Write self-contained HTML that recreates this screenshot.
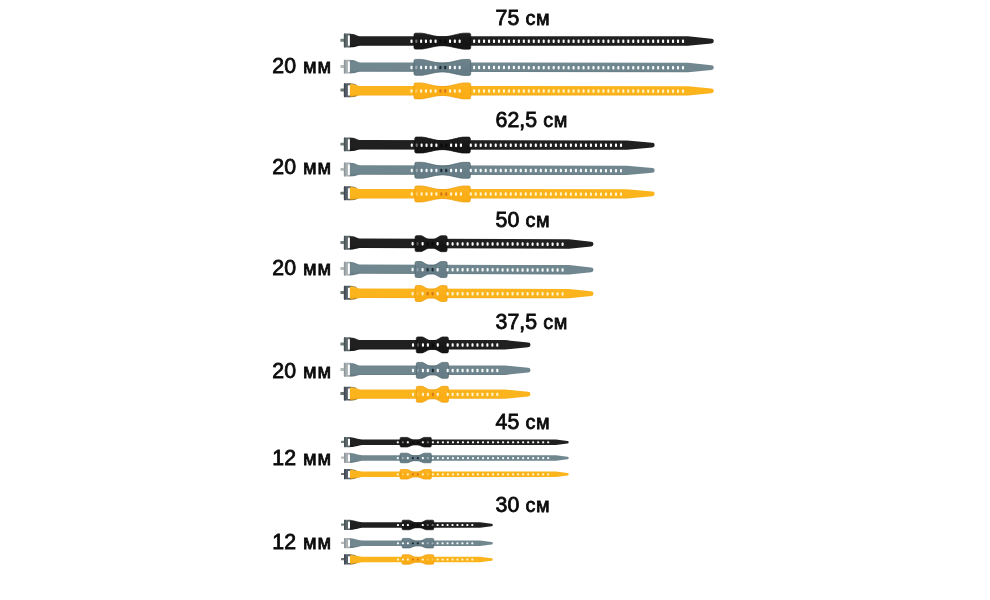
<!DOCTYPE html>
<html lang="ru">
<head>
<meta charset="utf-8">
<title>Ремни 20 мм и 12 мм</title>
<style>
html,body{margin:0;padding:0;background:#fff;}
body{width:990px;height:600px;position:relative;overflow:hidden;}
svg{position:absolute;left:0;top:0;display:block;}
.lab{position:absolute;font-family:"Liberation Sans",sans-serif;font-size:19.8px;line-height:24px;font-weight:400;color:#0b0b0b;white-space:pre;letter-spacing:0.6px;-webkit-text-stroke:0.8px #0b0b0b;}
.lab.w{letter-spacing:0.9px;}
.lab .d{font-size:21.3px;letter-spacing:0px;}
.lab.w .d{letter-spacing:0.3px;}
</style>
</head>
<body>
<svg width="990" height="600" viewBox="0 0 990 600">
<defs>
<linearGradient id="bk" x1="0" y1="0" x2="0" y2="1"><stop offset="0" stop-color="#2a2a2a"/><stop offset="0.22" stop-color="#202020"/><stop offset="0.75" stop-color="#202020"/><stop offset="1" stop-color="#151515"/></linearGradient>
<linearGradient id="kk" x1="0" y1="0" x2="0" y2="1"><stop offset="0" stop-color="#202020"/><stop offset="0.6" stop-color="#151515"/><stop offset="1" stop-color="#151515"/></linearGradient>
<linearGradient id="bg" x1="0" y1="0" x2="0" y2="1"><stop offset="0" stop-color="#6b8088"/><stop offset="0.22" stop-color="#70878f"/><stop offset="0.75" stop-color="#70878f"/><stop offset="1" stop-color="#62767e"/></linearGradient>
<linearGradient id="kg" x1="0" y1="0" x2="0" y2="1"><stop offset="0" stop-color="#6d848d"/><stop offset="0.6" stop-color="#667d87"/><stop offset="1" stop-color="#667d87"/></linearGradient>
<linearGradient id="by" x1="0" y1="0" x2="0" y2="1"><stop offset="0" stop-color="#ffc132"/><stop offset="0.22" stop-color="#fbb41c"/><stop offset="0.75" stop-color="#fbb41c"/><stop offset="1" stop-color="#f2a614"/></linearGradient>
<linearGradient id="ky" x1="0" y1="0" x2="0" y2="1"><stop offset="0" stop-color="#fdb422"/><stop offset="0.6" stop-color="#fbad15"/><stop offset="1" stop-color="#fbad15"/></linearGradient>
</defs>
<g class="strap s20 k" transform="rotate(0.016 344 40.95)">
<rect x="340.4" y="38.85" width="4" height="2.9" rx="0.5" fill="#717d7e"/>
<rect x="343.9" y="33.55" width="7.5" height="13.9" rx="0.9" fill="#5f6b6d"/>
<rect x="343.9" y="33.55" width="1.5" height="13.9" rx="0.7" fill="#465254"/>
<rect x="347.9" y="35.45" width="2.3" height="10.4" rx="0.3" fill="#fdfdfd"/>
<path d="M349.9 33.95 L353 33.95 C355.5 34.25 357.5 36.25 360 36.25 L688 36.25 L711.4 38.55 A2.4 2.4 0 0 1 711.4 43.35 L688 45.65 L360 45.65 C357.5 45.65 355.5 46.85 353 47.15 L349.9 47.15 Z" fill="url(#bk)"/>
<path d="M414 34.65 Q414 33.15 415.5 33.15 L421 33.15 C425.48 33.25 435.25 36.8 441.35 36.8 L443.35 36.8 C449.46 36.8 459.22 33.25 463.7 33.15 L469.2 33.15 Q470.7 33.15 470.7 34.65 L470.7 47.6 Q470.7 49.1 469.2 49.1 L463.7 49.1 C459.22 49 449.46 45.7 443.35 45.7 L441.35 45.7 C435.25 45.7 425.48 49 421 49.1 L415.5 49.1 Q414 49.1 414 47.6 Z" fill="url(#kk)" stroke="#101010" stroke-width="0.7" stroke-linejoin="round"/>
<g fill="#fcfcfc"><rect x="410.45" y="39.5" width="2.1" height="3.5" rx="0.8"/><rect x="420.08" y="39.5" width="2.1" height="3.5" rx="0.8"/><rect x="424.9" y="39.5" width="2.1" height="3.5" rx="0.8"/><rect x="429.71" y="39.5" width="2.1" height="3.5" rx="0.8"/><rect x="434.53" y="39.5" width="2.1" height="3.5" rx="0.8"/><rect x="448.97" y="39.5" width="2.1" height="3.5" rx="0.8"/><rect x="453.79" y="39.5" width="2.1" height="3.5" rx="0.8"/><rect x="458.6" y="39.5" width="2.1" height="3.5" rx="0.8"/><rect x="473.05" y="39.5" width="2.1" height="3.5" rx="0.8"/><rect x="478.02" y="39.5" width="2.1" height="3.5" rx="0.8"/><rect x="483" y="39.5" width="2.1" height="3.5" rx="0.8"/><rect x="487.97" y="39.5" width="2.1" height="3.5" rx="0.8"/><rect x="492.95" y="39.5" width="2.1" height="3.5" rx="0.8"/><rect x="497.92" y="39.5" width="2.1" height="3.5" rx="0.8"/><rect x="502.89" y="39.5" width="2.1" height="3.5" rx="0.8"/><rect x="507.87" y="39.5" width="2.1" height="3.5" rx="0.8"/><rect x="512.84" y="39.5" width="2.1" height="3.5" rx="0.8"/><rect x="517.81" y="39.5" width="2.1" height="3.5" rx="0.8"/><rect x="522.79" y="39.5" width="2.1" height="3.5" rx="0.8"/><rect x="527.76" y="39.5" width="2.1" height="3.5" rx="0.8"/><rect x="532.74" y="39.5" width="2.1" height="3.5" rx="0.8"/><rect x="537.71" y="39.5" width="2.1" height="3.5" rx="0.8"/><rect x="542.68" y="39.5" width="2.1" height="3.5" rx="0.8"/><rect x="547.66" y="39.5" width="2.1" height="3.5" rx="0.8"/><rect x="552.63" y="39.5" width="2.1" height="3.5" rx="0.8"/><rect x="557.6" y="39.5" width="2.1" height="3.5" rx="0.8"/><rect x="562.58" y="39.5" width="2.1" height="3.5" rx="0.8"/><rect x="567.55" y="39.5" width="2.1" height="3.5" rx="0.8"/><rect x="572.53" y="39.5" width="2.1" height="3.5" rx="0.8"/><rect x="577.5" y="39.5" width="2.1" height="3.5" rx="0.8"/><rect x="582.47" y="39.5" width="2.1" height="3.5" rx="0.8"/><rect x="587.45" y="39.5" width="2.1" height="3.5" rx="0.8"/><rect x="592.42" y="39.5" width="2.1" height="3.5" rx="0.8"/><rect x="597.4" y="39.5" width="2.1" height="3.5" rx="0.8"/><rect x="602.37" y="39.5" width="2.1" height="3.5" rx="0.8"/><rect x="607.34" y="39.5" width="2.1" height="3.5" rx="0.8"/><rect x="612.32" y="39.5" width="2.1" height="3.5" rx="0.8"/><rect x="617.29" y="39.5" width="2.1" height="3.5" rx="0.8"/><rect x="622.26" y="39.5" width="2.1" height="3.5" rx="0.8"/><rect x="627.24" y="39.5" width="2.1" height="3.5" rx="0.8"/><rect x="632.21" y="39.5" width="2.1" height="3.5" rx="0.8"/><rect x="637.19" y="39.5" width="2.1" height="3.5" rx="0.8"/><rect x="642.16" y="39.5" width="2.1" height="3.5" rx="0.8"/><rect x="647.13" y="39.5" width="2.1" height="3.5" rx="0.8"/><rect x="652.11" y="39.5" width="2.1" height="3.5" rx="0.8"/><rect x="657.08" y="39.5" width="2.1" height="3.5" rx="0.8"/><rect x="662.05" y="39.5" width="2.1" height="3.5" rx="0.8"/><rect x="667.03" y="39.5" width="2.1" height="3.5" rx="0.8"/><rect x="672" y="39.5" width="2.1" height="3.5" rx="0.8"/><rect x="676.98" y="39.5" width="2.1" height="3.5" rx="0.8"/><rect x="681.95" y="39.5" width="2.1" height="3.5" rx="0.8"/></g>
<g fill="#fcfcfc" fill-opacity="0.4"><rect x="415.27" y="39.5" width="2.1" height="3.5" rx="0.8"/></g>
<g fill="#0a0a0a"><rect x="439.34" y="39.5" width="2.1" height="3.5" rx="0.8"/><rect x="444.16" y="39.5" width="2.1" height="3.5" rx="0.8"/></g>
</g>
<g class="strap s20 g" transform="rotate(0.071 344 67.1)">
<rect x="340.4" y="65" width="4" height="2.9" rx="0.5" fill="#b5bbbd"/>
<rect x="343.9" y="59.7" width="7.5" height="13.9" rx="0.9" fill="#aab1b4"/>
<rect x="343.9" y="59.7" width="1.5" height="13.9" rx="0.7" fill="#8f979b"/>
<rect x="347.9" y="61.6" width="2.3" height="10.4" rx="0.3" fill="#fdfdfd"/>
<path d="M349.9 60.1 L353 60.1 C355.5 60.4 357.5 62.4 360 62.4 L688 62.4 L711.4 64.7 A2.4 2.4 0 0 1 711.4 69.5 L688 71.8 L360 71.8 C357.5 71.8 355.5 73 353 73.3 L349.9 73.3 Z" fill="url(#bg)"/>
<path d="M414 60.8 Q414 59.3 415.5 59.3 L421 59.3 C425.48 59.4 435.25 62.95 441.35 62.95 L443.35 62.95 C449.46 62.95 459.22 59.4 463.7 59.3 L469.2 59.3 Q470.7 59.3 470.7 60.8 L470.7 73.75 Q470.7 75.25 469.2 75.25 L463.7 75.25 C459.22 75.15 449.46 71.85 443.35 71.85 L441.35 71.85 C435.25 71.85 425.48 75.15 421 75.25 L415.5 75.25 Q414 75.25 414 73.75 Z" fill="url(#kg)" stroke="#4f656e" stroke-width="0.7" stroke-linejoin="round"/>
<g fill="#f7fafb"><rect x="410.45" y="65.65" width="2.1" height="3.5" rx="0.8"/><rect x="420.08" y="65.65" width="2.1" height="3.5" rx="0.8"/><rect x="424.9" y="65.65" width="2.1" height="3.5" rx="0.8"/><rect x="429.71" y="65.65" width="2.1" height="3.5" rx="0.8"/><rect x="434.53" y="65.65" width="2.1" height="3.5" rx="0.8"/><rect x="448.97" y="65.65" width="2.1" height="3.5" rx="0.8"/><rect x="453.79" y="65.65" width="2.1" height="3.5" rx="0.8"/><rect x="458.6" y="65.65" width="2.1" height="3.5" rx="0.8"/><rect x="473.05" y="65.65" width="2.1" height="3.5" rx="0.8"/><rect x="478.02" y="65.65" width="2.1" height="3.5" rx="0.8"/><rect x="483" y="65.65" width="2.1" height="3.5" rx="0.8"/><rect x="487.97" y="65.65" width="2.1" height="3.5" rx="0.8"/><rect x="492.95" y="65.65" width="2.1" height="3.5" rx="0.8"/><rect x="497.92" y="65.65" width="2.1" height="3.5" rx="0.8"/><rect x="502.89" y="65.65" width="2.1" height="3.5" rx="0.8"/><rect x="507.87" y="65.65" width="2.1" height="3.5" rx="0.8"/><rect x="512.84" y="65.65" width="2.1" height="3.5" rx="0.8"/><rect x="517.81" y="65.65" width="2.1" height="3.5" rx="0.8"/><rect x="522.79" y="65.65" width="2.1" height="3.5" rx="0.8"/><rect x="527.76" y="65.65" width="2.1" height="3.5" rx="0.8"/><rect x="532.74" y="65.65" width="2.1" height="3.5" rx="0.8"/><rect x="537.71" y="65.65" width="2.1" height="3.5" rx="0.8"/><rect x="542.68" y="65.65" width="2.1" height="3.5" rx="0.8"/><rect x="547.66" y="65.65" width="2.1" height="3.5" rx="0.8"/><rect x="552.63" y="65.65" width="2.1" height="3.5" rx="0.8"/><rect x="557.6" y="65.65" width="2.1" height="3.5" rx="0.8"/><rect x="562.58" y="65.65" width="2.1" height="3.5" rx="0.8"/><rect x="567.55" y="65.65" width="2.1" height="3.5" rx="0.8"/><rect x="572.53" y="65.65" width="2.1" height="3.5" rx="0.8"/><rect x="577.5" y="65.65" width="2.1" height="3.5" rx="0.8"/><rect x="582.47" y="65.65" width="2.1" height="3.5" rx="0.8"/><rect x="587.45" y="65.65" width="2.1" height="3.5" rx="0.8"/><rect x="592.42" y="65.65" width="2.1" height="3.5" rx="0.8"/><rect x="597.4" y="65.65" width="2.1" height="3.5" rx="0.8"/><rect x="602.37" y="65.65" width="2.1" height="3.5" rx="0.8"/><rect x="607.34" y="65.65" width="2.1" height="3.5" rx="0.8"/><rect x="612.32" y="65.65" width="2.1" height="3.5" rx="0.8"/><rect x="617.29" y="65.65" width="2.1" height="3.5" rx="0.8"/><rect x="622.26" y="65.65" width="2.1" height="3.5" rx="0.8"/><rect x="627.24" y="65.65" width="2.1" height="3.5" rx="0.8"/><rect x="632.21" y="65.65" width="2.1" height="3.5" rx="0.8"/><rect x="637.19" y="65.65" width="2.1" height="3.5" rx="0.8"/><rect x="642.16" y="65.65" width="2.1" height="3.5" rx="0.8"/><rect x="647.13" y="65.65" width="2.1" height="3.5" rx="0.8"/><rect x="652.11" y="65.65" width="2.1" height="3.5" rx="0.8"/><rect x="657.08" y="65.65" width="2.1" height="3.5" rx="0.8"/><rect x="662.05" y="65.65" width="2.1" height="3.5" rx="0.8"/><rect x="667.03" y="65.65" width="2.1" height="3.5" rx="0.8"/><rect x="672" y="65.65" width="2.1" height="3.5" rx="0.8"/><rect x="676.98" y="65.65" width="2.1" height="3.5" rx="0.8"/><rect x="681.95" y="65.65" width="2.1" height="3.5" rx="0.8"/></g>
<g fill="#f7fafb" fill-opacity="0.4"><rect x="415.27" y="65.65" width="2.1" height="3.5" rx="0.8"/></g>
<g fill="#1f2c33"><rect x="439.34" y="65.65" width="2.1" height="3.5" rx="0.8"/><rect x="444.16" y="65.65" width="2.1" height="3.5" rx="0.8"/></g>
</g>
<g class="strap s20 y" transform="rotate(0.024 344 90.7)">
<rect x="340.4" y="88.6" width="4" height="2.9" rx="0.5" fill="#6b746f"/>
<rect x="343.9" y="83.3" width="7.5" height="13.9" rx="0.9" fill="#57606b"/>
<rect x="343.9" y="83.3" width="1.5" height="13.9" rx="0.7" fill="#3f4852"/>
<rect x="347.9" y="85.2" width="2.3" height="10.4" rx="0.3" fill="#fdfdfd"/>
<path d="M349.9 83.7 L353 83.7 C355.5 84 357.5 86 360 86 L688 86 L711.4 88.3 A2.4 2.4 0 0 1 711.4 93.1 L688 95.4 L360 95.4 C357.5 95.4 355.5 96.6 353 96.9 L349.9 96.9 Z" fill="url(#by)"/>
<path d="M349.9 83.9 L353 83.9 Q355 84.2 356.5 84.9 M349.9 96.7 L353 96.7 Q355 96.4 356.5 95.8" fill="none" stroke="#5a5648" stroke-width="0.7" stroke-opacity="0.75"/>
<path d="M414 84.4 Q414 82.9 415.5 82.9 L421 82.9 C425.48 83 435.25 86.55 441.35 86.55 L443.35 86.55 C449.46 86.55 459.22 83 463.7 82.9 L469.2 82.9 Q470.7 82.9 470.7 84.4 L470.7 97.35 Q470.7 98.85 469.2 98.85 L463.7 98.85 C459.22 98.75 449.46 95.45 443.35 95.45 L441.35 95.45 C435.25 95.45 425.48 98.75 421 98.85 L415.5 98.85 Q414 98.85 414 97.35 Z" fill="url(#ky)" stroke="#ec9c0c" stroke-width="0.7" stroke-linejoin="round"/>
<g fill="#fff3cc"><rect x="410.45" y="89.25" width="2.1" height="3.5" rx="0.8"/><rect x="420.08" y="89.25" width="2.1" height="3.5" rx="0.8"/><rect x="424.9" y="89.25" width="2.1" height="3.5" rx="0.8"/><rect x="429.71" y="89.25" width="2.1" height="3.5" rx="0.8"/><rect x="434.53" y="89.25" width="2.1" height="3.5" rx="0.8"/><rect x="448.97" y="89.25" width="2.1" height="3.5" rx="0.8"/><rect x="453.79" y="89.25" width="2.1" height="3.5" rx="0.8"/><rect x="458.6" y="89.25" width="2.1" height="3.5" rx="0.8"/><rect x="473.05" y="89.25" width="2.1" height="3.5" rx="0.8"/><rect x="478.02" y="89.25" width="2.1" height="3.5" rx="0.8"/><rect x="483" y="89.25" width="2.1" height="3.5" rx="0.8"/><rect x="487.97" y="89.25" width="2.1" height="3.5" rx="0.8"/><rect x="492.95" y="89.25" width="2.1" height="3.5" rx="0.8"/><rect x="497.92" y="89.25" width="2.1" height="3.5" rx="0.8"/><rect x="502.89" y="89.25" width="2.1" height="3.5" rx="0.8"/><rect x="507.87" y="89.25" width="2.1" height="3.5" rx="0.8"/><rect x="512.84" y="89.25" width="2.1" height="3.5" rx="0.8"/><rect x="517.81" y="89.25" width="2.1" height="3.5" rx="0.8"/><rect x="522.79" y="89.25" width="2.1" height="3.5" rx="0.8"/><rect x="527.76" y="89.25" width="2.1" height="3.5" rx="0.8"/><rect x="532.74" y="89.25" width="2.1" height="3.5" rx="0.8"/><rect x="537.71" y="89.25" width="2.1" height="3.5" rx="0.8"/><rect x="542.68" y="89.25" width="2.1" height="3.5" rx="0.8"/><rect x="547.66" y="89.25" width="2.1" height="3.5" rx="0.8"/><rect x="552.63" y="89.25" width="2.1" height="3.5" rx="0.8"/><rect x="557.6" y="89.25" width="2.1" height="3.5" rx="0.8"/><rect x="562.58" y="89.25" width="2.1" height="3.5" rx="0.8"/><rect x="567.55" y="89.25" width="2.1" height="3.5" rx="0.8"/><rect x="572.53" y="89.25" width="2.1" height="3.5" rx="0.8"/><rect x="577.5" y="89.25" width="2.1" height="3.5" rx="0.8"/><rect x="582.47" y="89.25" width="2.1" height="3.5" rx="0.8"/><rect x="587.45" y="89.25" width="2.1" height="3.5" rx="0.8"/><rect x="592.42" y="89.25" width="2.1" height="3.5" rx="0.8"/><rect x="597.4" y="89.25" width="2.1" height="3.5" rx="0.8"/><rect x="602.37" y="89.25" width="2.1" height="3.5" rx="0.8"/><rect x="607.34" y="89.25" width="2.1" height="3.5" rx="0.8"/><rect x="612.32" y="89.25" width="2.1" height="3.5" rx="0.8"/><rect x="617.29" y="89.25" width="2.1" height="3.5" rx="0.8"/><rect x="622.26" y="89.25" width="2.1" height="3.5" rx="0.8"/><rect x="627.24" y="89.25" width="2.1" height="3.5" rx="0.8"/><rect x="632.21" y="89.25" width="2.1" height="3.5" rx="0.8"/><rect x="637.19" y="89.25" width="2.1" height="3.5" rx="0.8"/><rect x="642.16" y="89.25" width="2.1" height="3.5" rx="0.8"/><rect x="647.13" y="89.25" width="2.1" height="3.5" rx="0.8"/><rect x="652.11" y="89.25" width="2.1" height="3.5" rx="0.8"/><rect x="657.08" y="89.25" width="2.1" height="3.5" rx="0.8"/><rect x="662.05" y="89.25" width="2.1" height="3.5" rx="0.8"/><rect x="667.03" y="89.25" width="2.1" height="3.5" rx="0.8"/><rect x="672" y="89.25" width="2.1" height="3.5" rx="0.8"/><rect x="676.98" y="89.25" width="2.1" height="3.5" rx="0.8"/><rect x="681.95" y="89.25" width="2.1" height="3.5" rx="0.8"/></g>
<g fill="#fff3cc" fill-opacity="0.4"><rect x="415.27" y="89.25" width="2.1" height="3.5" rx="0.8"/></g>
<g fill="#d6741a"><rect x="439.34" y="89.25" width="2.1" height="3.5" rx="0.8"/><rect x="444.16" y="89.25" width="2.1" height="3.5" rx="0.8"/></g>
</g>
<g class="strap s20 k" transform="rotate(0.056 344 144.8)">
<rect x="340.4" y="142.7" width="4" height="2.9" rx="0.5" fill="#717d7e"/>
<rect x="343.9" y="137.4" width="7.5" height="13.9" rx="0.9" fill="#5f6b6d"/>
<rect x="343.9" y="137.4" width="1.5" height="13.9" rx="0.7" fill="#465254"/>
<rect x="347.9" y="139.3" width="2.3" height="10.4" rx="0.3" fill="#fdfdfd"/>
<path d="M349.9 137.8 L353 137.8 C355.5 138.1 357.5 140.1 360 140.1 L627 140.1 L652.3 142.4 A2.4 2.4 0 0 1 652.3 147.2 L627 149.5 L360 149.5 C357.5 149.5 355.5 150.7 353 151 L349.9 151 Z" fill="url(#bk)"/>
<path d="M414.8 138.5 Q414.8 137 416.3 137 L421.8 137 C426.15 137.1 435.62 140.65 441.55 140.65 L443.55 140.65 C449.48 140.65 458.95 137.1 463.3 137 L468.8 137 Q470.3 137 470.3 138.5 L470.3 151.45 Q470.3 152.95 468.8 152.95 L463.3 152.95 C458.95 152.85 449.48 149.55 443.55 149.55 L441.55 149.55 C435.62 149.55 426.15 152.85 421.8 152.95 L416.3 152.95 Q414.8 152.95 414.8 151.45 Z" fill="url(#kk)" stroke="#101010" stroke-width="0.7" stroke-linejoin="round"/>
<g fill="#fcfcfc"><rect x="410.75" y="143.35" width="2.1" height="3.5" rx="0.8"/><rect x="420.58" y="143.35" width="2.1" height="3.5" rx="0.8"/><rect x="425.5" y="143.35" width="2.1" height="3.5" rx="0.8"/><rect x="430.41" y="143.35" width="2.1" height="3.5" rx="0.8"/><rect x="435.33" y="143.35" width="2.1" height="3.5" rx="0.8"/><rect x="450.07" y="143.35" width="2.1" height="3.5" rx="0.8"/><rect x="454.99" y="143.35" width="2.1" height="3.5" rx="0.8"/><rect x="459.9" y="143.35" width="2.1" height="3.5" rx="0.8"/><rect x="469.73" y="143.35" width="2.1" height="3.5" rx="0.8"/><rect x="474.65" y="143.35" width="2.1" height="3.5" rx="0.8"/><rect x="479.66" y="143.35" width="2.1" height="3.5" rx="0.8"/><rect x="484.67" y="143.35" width="2.1" height="3.5" rx="0.8"/><rect x="489.68" y="143.35" width="2.1" height="3.5" rx="0.8"/><rect x="494.69" y="143.35" width="2.1" height="3.5" rx="0.8"/><rect x="499.7" y="143.35" width="2.1" height="3.5" rx="0.8"/><rect x="504.71" y="143.35" width="2.1" height="3.5" rx="0.8"/><rect x="509.72" y="143.35" width="2.1" height="3.5" rx="0.8"/><rect x="514.73" y="143.35" width="2.1" height="3.5" rx="0.8"/><rect x="519.74" y="143.35" width="2.1" height="3.5" rx="0.8"/><rect x="524.75" y="143.35" width="2.1" height="3.5" rx="0.8"/><rect x="529.76" y="143.35" width="2.1" height="3.5" rx="0.8"/><rect x="534.77" y="143.35" width="2.1" height="3.5" rx="0.8"/><rect x="539.78" y="143.35" width="2.1" height="3.5" rx="0.8"/><rect x="544.79" y="143.35" width="2.1" height="3.5" rx="0.8"/><rect x="549.81" y="143.35" width="2.1" height="3.5" rx="0.8"/><rect x="554.82" y="143.35" width="2.1" height="3.5" rx="0.8"/><rect x="559.83" y="143.35" width="2.1" height="3.5" rx="0.8"/><rect x="564.84" y="143.35" width="2.1" height="3.5" rx="0.8"/><rect x="569.85" y="143.35" width="2.1" height="3.5" rx="0.8"/><rect x="574.86" y="143.35" width="2.1" height="3.5" rx="0.8"/><rect x="579.87" y="143.35" width="2.1" height="3.5" rx="0.8"/><rect x="584.88" y="143.35" width="2.1" height="3.5" rx="0.8"/><rect x="589.89" y="143.35" width="2.1" height="3.5" rx="0.8"/><rect x="594.9" y="143.35" width="2.1" height="3.5" rx="0.8"/><rect x="599.91" y="143.35" width="2.1" height="3.5" rx="0.8"/><rect x="604.92" y="143.35" width="2.1" height="3.5" rx="0.8"/><rect x="609.93" y="143.35" width="2.1" height="3.5" rx="0.8"/><rect x="614.94" y="143.35" width="2.1" height="3.5" rx="0.8"/><rect x="619.95" y="143.35" width="2.1" height="3.5" rx="0.8"/></g>
<g fill="#fcfcfc" fill-opacity="0.4"><rect x="415.67" y="143.35" width="2.1" height="3.5" rx="0.8"/></g>
<g fill="#0a0a0a"><rect x="440.24" y="143.35" width="2.1" height="3.5" rx="0.8"/><rect x="445.16" y="143.35" width="2.1" height="3.5" rx="0.8"/></g>
</g>
<g class="strap s20 g" transform="rotate(0.075 344 170)">
<rect x="340.4" y="167.9" width="4" height="2.9" rx="0.5" fill="#b5bbbd"/>
<rect x="343.9" y="162.6" width="7.5" height="13.9" rx="0.9" fill="#aab1b4"/>
<rect x="343.9" y="162.6" width="1.5" height="13.9" rx="0.7" fill="#8f979b"/>
<rect x="347.9" y="164.5" width="2.3" height="10.4" rx="0.3" fill="#fdfdfd"/>
<path d="M349.9 163 L353 163 C355.5 163.3 357.5 165.3 360 165.3 L627 165.3 L652.3 167.6 A2.4 2.4 0 0 1 652.3 172.4 L627 174.7 L360 174.7 C357.5 174.7 355.5 175.9 353 176.2 L349.9 176.2 Z" fill="url(#bg)"/>
<path d="M414.8 163.7 Q414.8 162.2 416.3 162.2 L421.8 162.2 C426.15 162.3 435.62 165.85 441.55 165.85 L443.55 165.85 C449.48 165.85 458.95 162.3 463.3 162.2 L468.8 162.2 Q470.3 162.2 470.3 163.7 L470.3 176.65 Q470.3 178.15 468.8 178.15 L463.3 178.15 C458.95 178.05 449.48 174.75 443.55 174.75 L441.55 174.75 C435.62 174.75 426.15 178.05 421.8 178.15 L416.3 178.15 Q414.8 178.15 414.8 176.65 Z" fill="url(#kg)" stroke="#4f656e" stroke-width="0.7" stroke-linejoin="round"/>
<g fill="#f7fafb"><rect x="410.75" y="168.55" width="2.1" height="3.5" rx="0.8"/><rect x="420.58" y="168.55" width="2.1" height="3.5" rx="0.8"/><rect x="425.5" y="168.55" width="2.1" height="3.5" rx="0.8"/><rect x="430.41" y="168.55" width="2.1" height="3.5" rx="0.8"/><rect x="435.33" y="168.55" width="2.1" height="3.5" rx="0.8"/><rect x="450.07" y="168.55" width="2.1" height="3.5" rx="0.8"/><rect x="454.99" y="168.55" width="2.1" height="3.5" rx="0.8"/><rect x="459.9" y="168.55" width="2.1" height="3.5" rx="0.8"/><rect x="469.73" y="168.55" width="2.1" height="3.5" rx="0.8"/><rect x="474.65" y="168.55" width="2.1" height="3.5" rx="0.8"/><rect x="479.66" y="168.55" width="2.1" height="3.5" rx="0.8"/><rect x="484.67" y="168.55" width="2.1" height="3.5" rx="0.8"/><rect x="489.68" y="168.55" width="2.1" height="3.5" rx="0.8"/><rect x="494.69" y="168.55" width="2.1" height="3.5" rx="0.8"/><rect x="499.7" y="168.55" width="2.1" height="3.5" rx="0.8"/><rect x="504.71" y="168.55" width="2.1" height="3.5" rx="0.8"/><rect x="509.72" y="168.55" width="2.1" height="3.5" rx="0.8"/><rect x="514.73" y="168.55" width="2.1" height="3.5" rx="0.8"/><rect x="519.74" y="168.55" width="2.1" height="3.5" rx="0.8"/><rect x="524.75" y="168.55" width="2.1" height="3.5" rx="0.8"/><rect x="529.76" y="168.55" width="2.1" height="3.5" rx="0.8"/><rect x="534.77" y="168.55" width="2.1" height="3.5" rx="0.8"/><rect x="539.78" y="168.55" width="2.1" height="3.5" rx="0.8"/><rect x="544.79" y="168.55" width="2.1" height="3.5" rx="0.8"/><rect x="549.81" y="168.55" width="2.1" height="3.5" rx="0.8"/><rect x="554.82" y="168.55" width="2.1" height="3.5" rx="0.8"/><rect x="559.83" y="168.55" width="2.1" height="3.5" rx="0.8"/><rect x="564.84" y="168.55" width="2.1" height="3.5" rx="0.8"/><rect x="569.85" y="168.55" width="2.1" height="3.5" rx="0.8"/><rect x="574.86" y="168.55" width="2.1" height="3.5" rx="0.8"/><rect x="579.87" y="168.55" width="2.1" height="3.5" rx="0.8"/><rect x="584.88" y="168.55" width="2.1" height="3.5" rx="0.8"/><rect x="589.89" y="168.55" width="2.1" height="3.5" rx="0.8"/><rect x="594.9" y="168.55" width="2.1" height="3.5" rx="0.8"/><rect x="599.91" y="168.55" width="2.1" height="3.5" rx="0.8"/><rect x="604.92" y="168.55" width="2.1" height="3.5" rx="0.8"/><rect x="609.93" y="168.55" width="2.1" height="3.5" rx="0.8"/><rect x="614.94" y="168.55" width="2.1" height="3.5" rx="0.8"/><rect x="619.95" y="168.55" width="2.1" height="3.5" rx="0.8"/></g>
<g fill="#f7fafb" fill-opacity="0.4"><rect x="415.67" y="168.55" width="2.1" height="3.5" rx="0.8"/></g>
<g fill="#1f2c33"><rect x="440.24" y="168.55" width="2.1" height="3.5" rx="0.8"/><rect x="445.16" y="168.55" width="2.1" height="3.5" rx="0.8"/></g>
</g>
<g class="strap s20 y" transform="rotate(0.019 344 193.75)">
<rect x="340.4" y="191.65" width="4" height="2.9" rx="0.5" fill="#6b746f"/>
<rect x="343.9" y="186.35" width="7.5" height="13.9" rx="0.9" fill="#57606b"/>
<rect x="343.9" y="186.35" width="1.5" height="13.9" rx="0.7" fill="#3f4852"/>
<rect x="347.9" y="188.25" width="2.3" height="10.4" rx="0.3" fill="#fdfdfd"/>
<path d="M349.9 186.75 L353 186.75 C355.5 187.05 357.5 189.05 360 189.05 L627 189.05 L652.3 191.35 A2.4 2.4 0 0 1 652.3 196.15 L627 198.45 L360 198.45 C357.5 198.45 355.5 199.65 353 199.95 L349.9 199.95 Z" fill="url(#by)"/>
<path d="M349.9 186.95 L353 186.95 Q355 187.25 356.5 187.95 M349.9 199.75 L353 199.75 Q355 199.45 356.5 198.85" fill="none" stroke="#5a5648" stroke-width="0.7" stroke-opacity="0.75"/>
<path d="M414.8 187.45 Q414.8 185.95 416.3 185.95 L421.8 185.95 C426.15 186.05 435.62 189.6 441.55 189.6 L443.55 189.6 C449.48 189.6 458.95 186.05 463.3 185.95 L468.8 185.95 Q470.3 185.95 470.3 187.45 L470.3 200.4 Q470.3 201.9 468.8 201.9 L463.3 201.9 C458.95 201.8 449.48 198.5 443.55 198.5 L441.55 198.5 C435.62 198.5 426.15 201.8 421.8 201.9 L416.3 201.9 Q414.8 201.9 414.8 200.4 Z" fill="url(#ky)" stroke="#ec9c0c" stroke-width="0.7" stroke-linejoin="round"/>
<g fill="#fff3cc"><rect x="410.75" y="192.3" width="2.1" height="3.5" rx="0.8"/><rect x="420.58" y="192.3" width="2.1" height="3.5" rx="0.8"/><rect x="425.5" y="192.3" width="2.1" height="3.5" rx="0.8"/><rect x="430.41" y="192.3" width="2.1" height="3.5" rx="0.8"/><rect x="435.33" y="192.3" width="2.1" height="3.5" rx="0.8"/><rect x="450.07" y="192.3" width="2.1" height="3.5" rx="0.8"/><rect x="454.99" y="192.3" width="2.1" height="3.5" rx="0.8"/><rect x="459.9" y="192.3" width="2.1" height="3.5" rx="0.8"/><rect x="469.73" y="192.3" width="2.1" height="3.5" rx="0.8"/><rect x="474.65" y="192.3" width="2.1" height="3.5" rx="0.8"/><rect x="479.66" y="192.3" width="2.1" height="3.5" rx="0.8"/><rect x="484.67" y="192.3" width="2.1" height="3.5" rx="0.8"/><rect x="489.68" y="192.3" width="2.1" height="3.5" rx="0.8"/><rect x="494.69" y="192.3" width="2.1" height="3.5" rx="0.8"/><rect x="499.7" y="192.3" width="2.1" height="3.5" rx="0.8"/><rect x="504.71" y="192.3" width="2.1" height="3.5" rx="0.8"/><rect x="509.72" y="192.3" width="2.1" height="3.5" rx="0.8"/><rect x="514.73" y="192.3" width="2.1" height="3.5" rx="0.8"/><rect x="519.74" y="192.3" width="2.1" height="3.5" rx="0.8"/><rect x="524.75" y="192.3" width="2.1" height="3.5" rx="0.8"/><rect x="529.76" y="192.3" width="2.1" height="3.5" rx="0.8"/><rect x="534.77" y="192.3" width="2.1" height="3.5" rx="0.8"/><rect x="539.78" y="192.3" width="2.1" height="3.5" rx="0.8"/><rect x="544.79" y="192.3" width="2.1" height="3.5" rx="0.8"/><rect x="549.81" y="192.3" width="2.1" height="3.5" rx="0.8"/><rect x="554.82" y="192.3" width="2.1" height="3.5" rx="0.8"/><rect x="559.83" y="192.3" width="2.1" height="3.5" rx="0.8"/><rect x="564.84" y="192.3" width="2.1" height="3.5" rx="0.8"/><rect x="569.85" y="192.3" width="2.1" height="3.5" rx="0.8"/><rect x="574.86" y="192.3" width="2.1" height="3.5" rx="0.8"/><rect x="579.87" y="192.3" width="2.1" height="3.5" rx="0.8"/><rect x="584.88" y="192.3" width="2.1" height="3.5" rx="0.8"/><rect x="589.89" y="192.3" width="2.1" height="3.5" rx="0.8"/><rect x="594.9" y="192.3" width="2.1" height="3.5" rx="0.8"/><rect x="599.91" y="192.3" width="2.1" height="3.5" rx="0.8"/><rect x="604.92" y="192.3" width="2.1" height="3.5" rx="0.8"/><rect x="609.93" y="192.3" width="2.1" height="3.5" rx="0.8"/><rect x="614.94" y="192.3" width="2.1" height="3.5" rx="0.8"/><rect x="619.95" y="192.3" width="2.1" height="3.5" rx="0.8"/></g>
<g fill="#fff3cc" fill-opacity="0.4"><rect x="415.67" y="192.3" width="2.1" height="3.5" rx="0.8"/></g>
<g fill="#d6741a"><rect x="440.24" y="192.3" width="2.1" height="3.5" rx="0.8"/><rect x="445.16" y="192.3" width="2.1" height="3.5" rx="0.8"/></g>
</g>
<g class="strap s20 k" transform="rotate(0.200 344 243.2)">
<rect x="340.4" y="241.1" width="4" height="2.9" rx="0.5" fill="#717d7e"/>
<rect x="343.9" y="235.8" width="7.5" height="13.9" rx="0.9" fill="#5f6b6d"/>
<rect x="343.9" y="235.8" width="1.5" height="13.9" rx="0.7" fill="#465254"/>
<rect x="347.9" y="237.7" width="2.3" height="10.4" rx="0.3" fill="#fdfdfd"/>
<path d="M349.9 236.2 L353 236.2 C355.5 236.5 357.5 238.5 360 238.5 L569 238.5 L591.1 240.8 A2.4 2.4 0 0 1 591.1 245.6 L569 247.9 L360 247.9 C357.5 247.9 355.5 249.1 353 249.4 L349.9 249.4 Z" fill="url(#bk)"/>
<path d="M415.1 236.9 Q415.1 235.4 416.6 235.4 L421.1 235.4 C422.82 235.5 426.56 239.05 428.9 239.05 L433.3 239.05 C435.64 239.05 439.38 235.5 441.1 235.4 L445.6 235.4 Q447.1 235.4 447.1 236.9 L447.1 249.85 Q447.1 251.35 445.6 251.35 L441.1 251.35 C439.38 251.25 435.64 247.95 433.3 247.95 L428.9 247.95 C426.56 247.95 422.82 251.25 421.1 251.35 L416.6 251.35 Q415.1 251.35 415.1 249.85 Z" fill="url(#kk)" stroke="#101010" stroke-width="0.7" stroke-linejoin="round"/>
<g fill="#fcfcfc"><rect x="411.55" y="241.75" width="2.1" height="3.5" rx="0.8"/><rect x="421.55" y="241.75" width="2.1" height="3.5" rx="0.8"/><rect x="436.55" y="241.75" width="2.1" height="3.5" rx="0.8"/><rect x="446.55" y="241.75" width="2.1" height="3.5" rx="0.8"/><rect x="451.55" y="241.75" width="2.1" height="3.5" rx="0.8"/><rect x="456.55" y="241.75" width="2.1" height="3.5" rx="0.8"/><rect x="461.55" y="241.75" width="2.1" height="3.5" rx="0.8"/><rect x="466.55" y="241.75" width="2.1" height="3.5" rx="0.8"/><rect x="471.55" y="241.75" width="2.1" height="3.5" rx="0.8"/><rect x="476.55" y="241.75" width="2.1" height="3.5" rx="0.8"/><rect x="481.55" y="241.75" width="2.1" height="3.5" rx="0.8"/><rect x="486.55" y="241.75" width="2.1" height="3.5" rx="0.8"/><rect x="491.55" y="241.75" width="2.1" height="3.5" rx="0.8"/><rect x="496.55" y="241.75" width="2.1" height="3.5" rx="0.8"/><rect x="501.55" y="241.75" width="2.1" height="3.5" rx="0.8"/><rect x="506.55" y="241.75" width="2.1" height="3.5" rx="0.8"/><rect x="511.55" y="241.75" width="2.1" height="3.5" rx="0.8"/><rect x="516.55" y="241.75" width="2.1" height="3.5" rx="0.8"/><rect x="521.55" y="241.75" width="2.1" height="3.5" rx="0.8"/><rect x="526.55" y="241.75" width="2.1" height="3.5" rx="0.8"/><rect x="531.55" y="241.75" width="2.1" height="3.5" rx="0.8"/><rect x="536.55" y="241.75" width="2.1" height="3.5" rx="0.8"/><rect x="541.55" y="241.75" width="2.1" height="3.5" rx="0.8"/><rect x="546.55" y="241.75" width="2.1" height="3.5" rx="0.8"/><rect x="551.55" y="241.75" width="2.1" height="3.5" rx="0.8"/><rect x="556.55" y="241.75" width="2.1" height="3.5" rx="0.8"/><rect x="561.55" y="241.75" width="2.1" height="3.5" rx="0.8"/></g>
<g fill="#fcfcfc" fill-opacity="0.25"><rect x="416.55" y="241.75" width="2.1" height="3.5" rx="0.8"/></g>
<g fill="#0a0a0a"><rect x="426.55" y="241.75" width="2.1" height="3.5" rx="0.8"/><rect x="431.55" y="241.75" width="2.1" height="3.5" rx="0.8"/></g>
</g>
<g class="strap s20 g" transform="rotate(0.176 344 269.1)">
<rect x="340.4" y="267" width="4" height="2.9" rx="0.5" fill="#b5bbbd"/>
<rect x="343.9" y="261.7" width="7.5" height="13.9" rx="0.9" fill="#aab1b4"/>
<rect x="343.9" y="261.7" width="1.5" height="13.9" rx="0.7" fill="#8f979b"/>
<rect x="347.9" y="263.6" width="2.3" height="10.4" rx="0.3" fill="#fdfdfd"/>
<path d="M349.9 262.1 L353 262.1 C355.5 262.4 357.5 264.4 360 264.4 L569 264.4 L591.1 266.7 A2.4 2.4 0 0 1 591.1 271.5 L569 273.8 L360 273.8 C357.5 273.8 355.5 275 353 275.3 L349.9 275.3 Z" fill="url(#bg)"/>
<path d="M415.1 262.8 Q415.1 261.3 416.6 261.3 L421.1 261.3 C422.82 261.4 426.56 264.95 428.9 264.95 L433.3 264.95 C435.64 264.95 439.38 261.4 441.1 261.3 L445.6 261.3 Q447.1 261.3 447.1 262.8 L447.1 275.75 Q447.1 277.25 445.6 277.25 L441.1 277.25 C439.38 277.15 435.64 273.85 433.3 273.85 L428.9 273.85 C426.56 273.85 422.82 277.15 421.1 277.25 L416.6 277.25 Q415.1 277.25 415.1 275.75 Z" fill="url(#kg)" stroke="#4f656e" stroke-width="0.7" stroke-linejoin="round"/>
<g fill="#f7fafb"><rect x="411.55" y="267.65" width="2.1" height="3.5" rx="0.8"/><rect x="421.55" y="267.65" width="2.1" height="3.5" rx="0.8"/><rect x="436.55" y="267.65" width="2.1" height="3.5" rx="0.8"/><rect x="446.55" y="267.65" width="2.1" height="3.5" rx="0.8"/><rect x="451.55" y="267.65" width="2.1" height="3.5" rx="0.8"/><rect x="456.55" y="267.65" width="2.1" height="3.5" rx="0.8"/><rect x="461.55" y="267.65" width="2.1" height="3.5" rx="0.8"/><rect x="466.55" y="267.65" width="2.1" height="3.5" rx="0.8"/><rect x="471.55" y="267.65" width="2.1" height="3.5" rx="0.8"/><rect x="476.55" y="267.65" width="2.1" height="3.5" rx="0.8"/><rect x="481.55" y="267.65" width="2.1" height="3.5" rx="0.8"/><rect x="486.55" y="267.65" width="2.1" height="3.5" rx="0.8"/><rect x="491.55" y="267.65" width="2.1" height="3.5" rx="0.8"/><rect x="496.55" y="267.65" width="2.1" height="3.5" rx="0.8"/><rect x="501.55" y="267.65" width="2.1" height="3.5" rx="0.8"/><rect x="506.55" y="267.65" width="2.1" height="3.5" rx="0.8"/><rect x="511.55" y="267.65" width="2.1" height="3.5" rx="0.8"/><rect x="516.55" y="267.65" width="2.1" height="3.5" rx="0.8"/><rect x="521.55" y="267.65" width="2.1" height="3.5" rx="0.8"/><rect x="526.55" y="267.65" width="2.1" height="3.5" rx="0.8"/><rect x="531.55" y="267.65" width="2.1" height="3.5" rx="0.8"/><rect x="536.55" y="267.65" width="2.1" height="3.5" rx="0.8"/><rect x="541.55" y="267.65" width="2.1" height="3.5" rx="0.8"/><rect x="546.55" y="267.65" width="2.1" height="3.5" rx="0.8"/><rect x="551.55" y="267.65" width="2.1" height="3.5" rx="0.8"/><rect x="556.55" y="267.65" width="2.1" height="3.5" rx="0.8"/><rect x="561.55" y="267.65" width="2.1" height="3.5" rx="0.8"/></g>
<g fill="#f7fafb" fill-opacity="0.25"><rect x="416.55" y="267.65" width="2.1" height="3.5" rx="0.8"/></g>
<g fill="#1f2c33"><rect x="426.55" y="267.65" width="2.1" height="3.5" rx="0.8"/><rect x="431.55" y="267.65" width="2.1" height="3.5" rx="0.8"/></g>
</g>
<g class="strap s20 y" transform="rotate(0.106 344 293.2)">
<rect x="340.4" y="291.1" width="4" height="2.9" rx="0.5" fill="#6b746f"/>
<rect x="343.9" y="285.8" width="7.5" height="13.9" rx="0.9" fill="#57606b"/>
<rect x="343.9" y="285.8" width="1.5" height="13.9" rx="0.7" fill="#3f4852"/>
<rect x="347.9" y="287.7" width="2.3" height="10.4" rx="0.3" fill="#fdfdfd"/>
<path d="M349.9 286.2 L353 286.2 C355.5 286.5 357.5 288.5 360 288.5 L569 288.5 L591.1 290.8 A2.4 2.4 0 0 1 591.1 295.6 L569 297.9 L360 297.9 C357.5 297.9 355.5 299.1 353 299.4 L349.9 299.4 Z" fill="url(#by)"/>
<path d="M349.9 286.4 L353 286.4 Q355 286.7 356.5 287.4 M349.9 299.2 L353 299.2 Q355 298.9 356.5 298.3" fill="none" stroke="#5a5648" stroke-width="0.7" stroke-opacity="0.75"/>
<path d="M415.1 286.9 Q415.1 285.4 416.6 285.4 L421.1 285.4 C422.82 285.5 426.56 289.05 428.9 289.05 L433.3 289.05 C435.64 289.05 439.38 285.5 441.1 285.4 L445.6 285.4 Q447.1 285.4 447.1 286.9 L447.1 299.85 Q447.1 301.35 445.6 301.35 L441.1 301.35 C439.38 301.25 435.64 297.95 433.3 297.95 L428.9 297.95 C426.56 297.95 422.82 301.25 421.1 301.35 L416.6 301.35 Q415.1 301.35 415.1 299.85 Z" fill="url(#ky)" stroke="#ec9c0c" stroke-width="0.7" stroke-linejoin="round"/>
<g fill="#fff3cc"><rect x="411.55" y="291.75" width="2.1" height="3.5" rx="0.8"/><rect x="421.55" y="291.75" width="2.1" height="3.5" rx="0.8"/><rect x="436.55" y="291.75" width="2.1" height="3.5" rx="0.8"/><rect x="446.55" y="291.75" width="2.1" height="3.5" rx="0.8"/><rect x="451.55" y="291.75" width="2.1" height="3.5" rx="0.8"/><rect x="456.55" y="291.75" width="2.1" height="3.5" rx="0.8"/><rect x="461.55" y="291.75" width="2.1" height="3.5" rx="0.8"/><rect x="466.55" y="291.75" width="2.1" height="3.5" rx="0.8"/><rect x="471.55" y="291.75" width="2.1" height="3.5" rx="0.8"/><rect x="476.55" y="291.75" width="2.1" height="3.5" rx="0.8"/><rect x="481.55" y="291.75" width="2.1" height="3.5" rx="0.8"/><rect x="486.55" y="291.75" width="2.1" height="3.5" rx="0.8"/><rect x="491.55" y="291.75" width="2.1" height="3.5" rx="0.8"/><rect x="496.55" y="291.75" width="2.1" height="3.5" rx="0.8"/><rect x="501.55" y="291.75" width="2.1" height="3.5" rx="0.8"/><rect x="506.55" y="291.75" width="2.1" height="3.5" rx="0.8"/><rect x="511.55" y="291.75" width="2.1" height="3.5" rx="0.8"/><rect x="516.55" y="291.75" width="2.1" height="3.5" rx="0.8"/><rect x="521.55" y="291.75" width="2.1" height="3.5" rx="0.8"/><rect x="526.55" y="291.75" width="2.1" height="3.5" rx="0.8"/><rect x="531.55" y="291.75" width="2.1" height="3.5" rx="0.8"/><rect x="536.55" y="291.75" width="2.1" height="3.5" rx="0.8"/><rect x="541.55" y="291.75" width="2.1" height="3.5" rx="0.8"/><rect x="546.55" y="291.75" width="2.1" height="3.5" rx="0.8"/><rect x="551.55" y="291.75" width="2.1" height="3.5" rx="0.8"/><rect x="556.55" y="291.75" width="2.1" height="3.5" rx="0.8"/><rect x="561.55" y="291.75" width="2.1" height="3.5" rx="0.8"/></g>
<g fill="#fff3cc" fill-opacity="0.25"><rect x="416.55" y="291.75" width="2.1" height="3.5" rx="0.8"/></g>
<g fill="#d6741a"><rect x="426.55" y="291.75" width="2.1" height="3.5" rx="0.8"/><rect x="431.55" y="291.75" width="2.1" height="3.5" rx="0.8"/></g>
</g>
<g class="strap s20 k" transform="rotate(0.032 344 344.7)">
<rect x="340.4" y="342.6" width="4" height="2.9" rx="0.5" fill="#717d7e"/>
<rect x="343.9" y="337.3" width="7.5" height="13.9" rx="0.9" fill="#5f6b6d"/>
<rect x="343.9" y="337.3" width="1.5" height="13.9" rx="0.7" fill="#465254"/>
<rect x="347.9" y="339.2" width="2.3" height="10.4" rx="0.3" fill="#fdfdfd"/>
<path d="M349.9 337.7 L353 337.7 C355.5 338 357.5 340 360 340 L505 340 L528.1 342.3 A2.4 2.4 0 0 1 528.1 347.1 L505 349.4 L360 349.4 C357.5 349.4 355.5 350.6 353 350.9 L349.9 350.9 Z" fill="url(#bk)"/>
<path d="M416.3 338.4 Q416.3 336.9 417.8 336.9 L422.3 336.9 C424.03 337 427.8 340.55 430.15 340.55 L434.55 340.55 C436.91 340.55 440.67 337 442.4 336.9 L446.9 336.9 Q448.4 336.9 448.4 338.4 L448.4 351.35 Q448.4 352.85 446.9 352.85 L442.4 352.85 C440.67 352.75 436.91 349.45 434.55 349.45 L430.15 349.45 C427.8 349.45 424.03 352.75 422.3 352.85 L417.8 352.85 Q416.3 352.85 416.3 351.35 Z" fill="url(#kk)" stroke="#101010" stroke-width="0.7" stroke-linejoin="round"/>
<g fill="#fcfcfc"><rect x="411.95" y="343.25" width="2.1" height="3.5" rx="0.8"/><rect x="421.87" y="343.25" width="2.1" height="3.5" rx="0.8"/><rect x="426.83" y="343.25" width="2.1" height="3.5" rx="0.8"/><rect x="436.74" y="343.25" width="2.1" height="3.5" rx="0.8"/><rect x="446.66" y="343.25" width="2.1" height="3.5" rx="0.8"/><rect x="451.62" y="343.25" width="2.1" height="3.5" rx="0.8"/><rect x="456.58" y="343.25" width="2.1" height="3.5" rx="0.8"/><rect x="461.54" y="343.25" width="2.1" height="3.5" rx="0.8"/><rect x="466.5" y="343.25" width="2.1" height="3.5" rx="0.8"/><rect x="471.46" y="343.25" width="2.1" height="3.5" rx="0.8"/><rect x="476.41" y="343.25" width="2.1" height="3.5" rx="0.8"/><rect x="481.37" y="343.25" width="2.1" height="3.5" rx="0.8"/><rect x="486.33" y="343.25" width="2.1" height="3.5" rx="0.8"/><rect x="491.29" y="343.25" width="2.1" height="3.5" rx="0.8"/><rect x="496.25" y="343.25" width="2.1" height="3.5" rx="0.8"/></g>
<g fill="#fcfcfc" fill-opacity="0.25"><rect x="416.91" y="343.25" width="2.1" height="3.5" rx="0.8"/></g>
<g fill="#0a0a0a"><rect x="431.79" y="343.25" width="2.1" height="3.5" rx="0.8"/></g>
</g>
<g class="strap s20 g">
<rect x="340.4" y="368.1" width="4" height="2.9" rx="0.5" fill="#b5bbbd"/>
<rect x="343.9" y="362.8" width="7.5" height="13.9" rx="0.9" fill="#aab1b4"/>
<rect x="343.9" y="362.8" width="1.5" height="13.9" rx="0.7" fill="#8f979b"/>
<rect x="347.9" y="364.7" width="2.3" height="10.4" rx="0.3" fill="#fdfdfd"/>
<path d="M349.9 363.2 L353 363.2 C355.5 363.5 357.5 365.5 360 365.5 L505 365.5 L528.1 367.8 A2.4 2.4 0 0 1 528.1 372.6 L505 374.9 L360 374.9 C357.5 374.9 355.5 376.1 353 376.4 L349.9 376.4 Z" fill="url(#bg)"/>
<path d="M416.3 363.9 Q416.3 362.4 417.8 362.4 L422.3 362.4 C424.03 362.5 427.8 366.05 430.15 366.05 L434.55 366.05 C436.91 366.05 440.67 362.5 442.4 362.4 L446.9 362.4 Q448.4 362.4 448.4 363.9 L448.4 376.85 Q448.4 378.35 446.9 378.35 L442.4 378.35 C440.67 378.25 436.91 374.95 434.55 374.95 L430.15 374.95 C427.8 374.95 424.03 378.25 422.3 378.35 L417.8 378.35 Q416.3 378.35 416.3 376.85 Z" fill="url(#kg)" stroke="#4f656e" stroke-width="0.7" stroke-linejoin="round"/>
<g fill="#f7fafb"><rect x="411.95" y="368.75" width="2.1" height="3.5" rx="0.8"/><rect x="421.87" y="368.75" width="2.1" height="3.5" rx="0.8"/><rect x="426.83" y="368.75" width="2.1" height="3.5" rx="0.8"/><rect x="436.74" y="368.75" width="2.1" height="3.5" rx="0.8"/><rect x="446.66" y="368.75" width="2.1" height="3.5" rx="0.8"/><rect x="451.62" y="368.75" width="2.1" height="3.5" rx="0.8"/><rect x="456.58" y="368.75" width="2.1" height="3.5" rx="0.8"/><rect x="461.54" y="368.75" width="2.1" height="3.5" rx="0.8"/><rect x="466.5" y="368.75" width="2.1" height="3.5" rx="0.8"/><rect x="471.46" y="368.75" width="2.1" height="3.5" rx="0.8"/><rect x="476.41" y="368.75" width="2.1" height="3.5" rx="0.8"/><rect x="481.37" y="368.75" width="2.1" height="3.5" rx="0.8"/><rect x="486.33" y="368.75" width="2.1" height="3.5" rx="0.8"/><rect x="491.29" y="368.75" width="2.1" height="3.5" rx="0.8"/><rect x="496.25" y="368.75" width="2.1" height="3.5" rx="0.8"/></g>
<g fill="#f7fafb" fill-opacity="0.25"><rect x="416.91" y="368.75" width="2.1" height="3.5" rx="0.8"/></g>
<g fill="#1f2c33"><rect x="431.79" y="368.75" width="2.1" height="3.5" rx="0.8"/></g>
</g>
<g class="strap s20 y">
<rect x="340.4" y="392" width="4" height="2.9" rx="0.5" fill="#6b746f"/>
<rect x="343.9" y="386.7" width="7.5" height="13.9" rx="0.9" fill="#57606b"/>
<rect x="343.9" y="386.7" width="1.5" height="13.9" rx="0.7" fill="#3f4852"/>
<rect x="347.9" y="388.6" width="2.3" height="10.4" rx="0.3" fill="#fdfdfd"/>
<path d="M349.9 387.1 L353 387.1 C355.5 387.4 357.5 389.4 360 389.4 L505 389.4 L528.1 391.7 A2.4 2.4 0 0 1 528.1 396.5 L505 398.8 L360 398.8 C357.5 398.8 355.5 400 353 400.3 L349.9 400.3 Z" fill="url(#by)"/>
<path d="M349.9 387.3 L353 387.3 Q355 387.6 356.5 388.3 M349.9 400.1 L353 400.1 Q355 399.8 356.5 399.2" fill="none" stroke="#5a5648" stroke-width="0.7" stroke-opacity="0.75"/>
<path d="M416.3 387.8 Q416.3 386.3 417.8 386.3 L422.3 386.3 C424.03 386.4 427.8 389.95 430.15 389.95 L434.55 389.95 C436.91 389.95 440.67 386.4 442.4 386.3 L446.9 386.3 Q448.4 386.3 448.4 387.8 L448.4 400.75 Q448.4 402.25 446.9 402.25 L442.4 402.25 C440.67 402.15 436.91 398.85 434.55 398.85 L430.15 398.85 C427.8 398.85 424.03 402.15 422.3 402.25 L417.8 402.25 Q416.3 402.25 416.3 400.75 Z" fill="url(#ky)" stroke="#ec9c0c" stroke-width="0.7" stroke-linejoin="round"/>
<g fill="#fff3cc"><rect x="411.95" y="392.65" width="2.1" height="3.5" rx="0.8"/><rect x="421.87" y="392.65" width="2.1" height="3.5" rx="0.8"/><rect x="426.83" y="392.65" width="2.1" height="3.5" rx="0.8"/><rect x="436.74" y="392.65" width="2.1" height="3.5" rx="0.8"/><rect x="446.66" y="392.65" width="2.1" height="3.5" rx="0.8"/><rect x="451.62" y="392.65" width="2.1" height="3.5" rx="0.8"/><rect x="456.58" y="392.65" width="2.1" height="3.5" rx="0.8"/><rect x="461.54" y="392.65" width="2.1" height="3.5" rx="0.8"/><rect x="466.5" y="392.65" width="2.1" height="3.5" rx="0.8"/><rect x="471.46" y="392.65" width="2.1" height="3.5" rx="0.8"/><rect x="476.41" y="392.65" width="2.1" height="3.5" rx="0.8"/><rect x="481.37" y="392.65" width="2.1" height="3.5" rx="0.8"/><rect x="486.33" y="392.65" width="2.1" height="3.5" rx="0.8"/><rect x="491.29" y="392.65" width="2.1" height="3.5" rx="0.8"/><rect x="496.25" y="392.65" width="2.1" height="3.5" rx="0.8"/></g>
<g fill="#fff3cc" fill-opacity="0.25"><rect x="416.91" y="392.65" width="2.1" height="3.5" rx="0.8"/></g>
<g fill="#d6741a"><rect x="431.79" y="392.65" width="2.1" height="3.5" rx="0.8"/></g>
</g>
<g class="strap s12 k">
<rect x="341" y="440.8" width="3.5" height="2.2" rx="0.5" fill="#717d7e"/>
<rect x="344" y="437" width="7.5" height="10.2" rx="0.9" fill="#5f6b6d"/>
<rect x="344" y="437" width="1.5" height="10.2" rx="0.7" fill="#465254"/>
<rect x="348" y="438.9" width="2.3" height="6.7" rx="0.3" fill="#fdfdfd"/>
<path d="M350 437.4 L352.5 437.4 C355 437.7 360 439.52 362.5 439.52 L556 439.52 L567.4 440.9 A1.3 1.3 0 0 1 567.4 443.5 L556 444.88 L362.5 444.88 C360 444.88 355 446.6 352.5 446.9 L350 446.9 Z" fill="url(#bk)"/>
<path d="M400.1 438.5 Q400.1 437.4 401.2 437.4 L407.3 437.4 C408.71 437.5 411.78 440.07 413.7 440.07 L417.7 440.07 C419.62 440.07 422.69 437.5 424.1 437.4 L430.2 437.4 Q431.3 437.4 431.3 438.5 L431.3 445.85 Q431.3 446.95 430.2 446.95 L424.1 446.95 C422.69 446.85 419.62 444.93 417.7 444.93 L413.7 444.93 C411.78 444.93 408.71 446.85 407.3 446.95 L401.2 446.95 Q400.1 446.95 400.1 445.85 Z" fill="url(#kk)" stroke="#101010" stroke-width="0.7" stroke-linejoin="round"/>
<g fill="#fcfcfc"><rect x="396.75" y="441.18" width="2.1" height="2.15" rx="0.85"/><rect x="406.78" y="441.18" width="2.1" height="2.15" rx="0.85"/><rect x="421.82" y="441.18" width="2.1" height="2.15" rx="0.85"/><rect x="431.84" y="441.18" width="2.1" height="2.15" rx="0.85"/><rect x="436.86" y="441.18" width="2.1" height="2.15" rx="0.85"/><rect x="441.87" y="441.18" width="2.1" height="2.15" rx="0.85"/><rect x="446.88" y="441.18" width="2.1" height="2.15" rx="0.85"/><rect x="451.9" y="441.18" width="2.1" height="2.15" rx="0.85"/><rect x="456.91" y="441.18" width="2.1" height="2.15" rx="0.85"/><rect x="461.92" y="441.18" width="2.1" height="2.15" rx="0.85"/><rect x="466.94" y="441.18" width="2.1" height="2.15" rx="0.85"/><rect x="471.95" y="441.18" width="2.1" height="2.15" rx="0.85"/><rect x="476.96" y="441.18" width="2.1" height="2.15" rx="0.85"/><rect x="481.98" y="441.18" width="2.1" height="2.15" rx="0.85"/><rect x="486.99" y="441.18" width="2.1" height="2.15" rx="0.85"/><rect x="492" y="441.18" width="2.1" height="2.15" rx="0.85"/><rect x="497.02" y="441.18" width="2.1" height="2.15" rx="0.85"/><rect x="502.03" y="441.18" width="2.1" height="2.15" rx="0.85"/><rect x="507.04" y="441.18" width="2.1" height="2.15" rx="0.85"/><rect x="512.06" y="441.18" width="2.1" height="2.15" rx="0.85"/><rect x="517.07" y="441.18" width="2.1" height="2.15" rx="0.85"/><rect x="522.08" y="441.18" width="2.1" height="2.15" rx="0.85"/><rect x="527.1" y="441.18" width="2.1" height="2.15" rx="0.85"/><rect x="532.11" y="441.18" width="2.1" height="2.15" rx="0.85"/><rect x="537.12" y="441.18" width="2.1" height="2.15" rx="0.85"/><rect x="542.14" y="441.18" width="2.1" height="2.15" rx="0.85"/><rect x="547.15" y="441.18" width="2.1" height="2.15" rx="0.85"/></g>
<g fill="#fcfcfc" fill-opacity="0.4"><rect x="401.76" y="441.18" width="2.1" height="2.15" rx="0.85"/><rect x="426.83" y="441.18" width="2.1" height="2.15" rx="0.85"/></g>
<g fill="#0a0a0a"><rect x="411.79" y="441.18" width="2.1" height="2.15" rx="0.85"/><rect x="416.8" y="441.18" width="2.1" height="2.15" rx="0.85"/></g>
</g>
<g class="strap s12 g">
<rect x="341" y="456.6" width="3.5" height="2.2" rx="0.5" fill="#b5bbbd"/>
<rect x="344" y="452.8" width="7.5" height="10.2" rx="0.9" fill="#aab1b4"/>
<rect x="344" y="452.8" width="1.5" height="10.2" rx="0.7" fill="#8f979b"/>
<rect x="348" y="454.7" width="2.3" height="6.7" rx="0.3" fill="#fdfdfd"/>
<path d="M350 453.2 L352.5 453.2 C355 453.5 360 455.32 362.5 455.32 L556 455.32 L567.4 456.7 A1.3 1.3 0 0 1 567.4 459.3 L556 460.68 L362.5 460.68 C360 460.68 355 462.4 352.5 462.7 L350 462.7 Z" fill="url(#bg)"/>
<path d="M400.1 454.3 Q400.1 453.2 401.2 453.2 L407.3 453.2 C408.71 453.3 411.78 455.87 413.7 455.87 L417.7 455.87 C419.62 455.87 422.69 453.3 424.1 453.2 L430.2 453.2 Q431.3 453.2 431.3 454.3 L431.3 461.65 Q431.3 462.75 430.2 462.75 L424.1 462.75 C422.69 462.65 419.62 460.73 417.7 460.73 L413.7 460.73 C411.78 460.73 408.71 462.65 407.3 462.75 L401.2 462.75 Q400.1 462.75 400.1 461.65 Z" fill="url(#kg)" stroke="#4f656e" stroke-width="0.7" stroke-linejoin="round"/>
<g fill="#f7fafb"><rect x="396.75" y="456.98" width="2.1" height="2.15" rx="0.85"/><rect x="406.78" y="456.98" width="2.1" height="2.15" rx="0.85"/><rect x="421.82" y="456.98" width="2.1" height="2.15" rx="0.85"/><rect x="431.84" y="456.98" width="2.1" height="2.15" rx="0.85"/><rect x="436.86" y="456.98" width="2.1" height="2.15" rx="0.85"/><rect x="441.87" y="456.98" width="2.1" height="2.15" rx="0.85"/><rect x="446.88" y="456.98" width="2.1" height="2.15" rx="0.85"/><rect x="451.9" y="456.98" width="2.1" height="2.15" rx="0.85"/><rect x="456.91" y="456.98" width="2.1" height="2.15" rx="0.85"/><rect x="461.92" y="456.98" width="2.1" height="2.15" rx="0.85"/><rect x="466.94" y="456.98" width="2.1" height="2.15" rx="0.85"/><rect x="471.95" y="456.98" width="2.1" height="2.15" rx="0.85"/><rect x="476.96" y="456.98" width="2.1" height="2.15" rx="0.85"/><rect x="481.98" y="456.98" width="2.1" height="2.15" rx="0.85"/><rect x="486.99" y="456.98" width="2.1" height="2.15" rx="0.85"/><rect x="492" y="456.98" width="2.1" height="2.15" rx="0.85"/><rect x="497.02" y="456.98" width="2.1" height="2.15" rx="0.85"/><rect x="502.03" y="456.98" width="2.1" height="2.15" rx="0.85"/><rect x="507.04" y="456.98" width="2.1" height="2.15" rx="0.85"/><rect x="512.06" y="456.98" width="2.1" height="2.15" rx="0.85"/><rect x="517.07" y="456.98" width="2.1" height="2.15" rx="0.85"/><rect x="522.08" y="456.98" width="2.1" height="2.15" rx="0.85"/><rect x="527.1" y="456.98" width="2.1" height="2.15" rx="0.85"/><rect x="532.11" y="456.98" width="2.1" height="2.15" rx="0.85"/><rect x="537.12" y="456.98" width="2.1" height="2.15" rx="0.85"/><rect x="542.14" y="456.98" width="2.1" height="2.15" rx="0.85"/><rect x="547.15" y="456.98" width="2.1" height="2.15" rx="0.85"/></g>
<g fill="#f7fafb" fill-opacity="0.4"><rect x="401.76" y="456.98" width="2.1" height="2.15" rx="0.85"/><rect x="426.83" y="456.98" width="2.1" height="2.15" rx="0.85"/></g>
<g fill="#1f2c33"><rect x="411.79" y="456.98" width="2.1" height="2.15" rx="0.85"/><rect x="416.8" y="456.98" width="2.1" height="2.15" rx="0.85"/></g>
</g>
<g class="strap s12 y">
<rect x="341" y="472.9" width="3.5" height="2.2" rx="0.5" fill="#6b746f"/>
<rect x="344" y="469.1" width="7.5" height="10.2" rx="0.9" fill="#57606b"/>
<rect x="344" y="469.1" width="1.5" height="10.2" rx="0.7" fill="#3f4852"/>
<rect x="348" y="471" width="2.3" height="6.7" rx="0.3" fill="#fdfdfd"/>
<path d="M350 469.5 L352.5 469.5 C355 469.8 360 471.62 362.5 471.62 L556 471.62 L567.4 473 A1.3 1.3 0 0 1 567.4 475.6 L556 476.98 L362.5 476.98 C360 476.98 355 478.7 352.5 479 L350 479 Z" fill="url(#by)"/>
<path d="M350 469.7 L352.5 469.7 Q354.5 470 356 470.7 M350 478.8 L352.5 478.8 Q354.5 478.5 356 477.9" fill="none" stroke="#5a5648" stroke-width="0.7" stroke-opacity="0.75"/>
<path d="M400.1 470.6 Q400.1 469.5 401.2 469.5 L407.3 469.5 C408.71 469.6 411.78 472.17 413.7 472.17 L417.7 472.17 C419.62 472.17 422.69 469.6 424.1 469.5 L430.2 469.5 Q431.3 469.5 431.3 470.6 L431.3 477.95 Q431.3 479.05 430.2 479.05 L424.1 479.05 C422.69 478.95 419.62 477.03 417.7 477.03 L413.7 477.03 C411.78 477.03 408.71 478.95 407.3 479.05 L401.2 479.05 Q400.1 479.05 400.1 477.95 Z" fill="url(#ky)" stroke="#ec9c0c" stroke-width="0.7" stroke-linejoin="round"/>
<g fill="#fff3cc"><rect x="396.75" y="473.28" width="2.1" height="2.15" rx="0.85"/><rect x="406.78" y="473.28" width="2.1" height="2.15" rx="0.85"/><rect x="421.82" y="473.28" width="2.1" height="2.15" rx="0.85"/><rect x="431.84" y="473.28" width="2.1" height="2.15" rx="0.85"/><rect x="436.86" y="473.28" width="2.1" height="2.15" rx="0.85"/><rect x="441.87" y="473.28" width="2.1" height="2.15" rx="0.85"/><rect x="446.88" y="473.28" width="2.1" height="2.15" rx="0.85"/><rect x="451.9" y="473.28" width="2.1" height="2.15" rx="0.85"/><rect x="456.91" y="473.28" width="2.1" height="2.15" rx="0.85"/><rect x="461.92" y="473.28" width="2.1" height="2.15" rx="0.85"/><rect x="466.94" y="473.28" width="2.1" height="2.15" rx="0.85"/><rect x="471.95" y="473.28" width="2.1" height="2.15" rx="0.85"/><rect x="476.96" y="473.28" width="2.1" height="2.15" rx="0.85"/><rect x="481.98" y="473.28" width="2.1" height="2.15" rx="0.85"/><rect x="486.99" y="473.28" width="2.1" height="2.15" rx="0.85"/><rect x="492" y="473.28" width="2.1" height="2.15" rx="0.85"/><rect x="497.02" y="473.28" width="2.1" height="2.15" rx="0.85"/><rect x="502.03" y="473.28" width="2.1" height="2.15" rx="0.85"/><rect x="507.04" y="473.28" width="2.1" height="2.15" rx="0.85"/><rect x="512.06" y="473.28" width="2.1" height="2.15" rx="0.85"/><rect x="517.07" y="473.28" width="2.1" height="2.15" rx="0.85"/><rect x="522.08" y="473.28" width="2.1" height="2.15" rx="0.85"/><rect x="527.1" y="473.28" width="2.1" height="2.15" rx="0.85"/><rect x="532.11" y="473.28" width="2.1" height="2.15" rx="0.85"/><rect x="537.12" y="473.28" width="2.1" height="2.15" rx="0.85"/><rect x="542.14" y="473.28" width="2.1" height="2.15" rx="0.85"/><rect x="547.15" y="473.28" width="2.1" height="2.15" rx="0.85"/></g>
<g fill="#fff3cc" fill-opacity="0.4"><rect x="401.76" y="473.28" width="2.1" height="2.15" rx="0.85"/><rect x="426.83" y="473.28" width="2.1" height="2.15" rx="0.85"/></g>
<g fill="#d6741a"><rect x="411.79" y="473.28" width="2.1" height="2.15" rx="0.85"/><rect x="416.8" y="473.28" width="2.1" height="2.15" rx="0.85"/></g>
</g>
<g class="strap s12 k">
<rect x="341" y="523.6" width="3.5" height="2.2" rx="0.5" fill="#717d7e"/>
<rect x="344" y="519.8" width="7.5" height="10.2" rx="0.9" fill="#5f6b6d"/>
<rect x="344" y="519.8" width="1.5" height="10.2" rx="0.7" fill="#465254"/>
<rect x="348" y="521.7" width="2.3" height="6.7" rx="0.3" fill="#fdfdfd"/>
<path d="M350 520.2 L352.5 520.2 C355 520.5 360 522.32 362.5 522.32 L480 522.32 L491.5 523.7 A1.3 1.3 0 0 1 491.5 526.3 L480 527.68 L362.5 527.68 C360 527.68 355 529.4 352.5 529.7 L350 529.7 Z" fill="url(#bk)"/>
<path d="M402.1 521.3 Q402.1 520.2 403.2 520.2 L409.3 520.2 C410.75 520.3 413.92 522.87 415.9 522.87 L419.9 522.87 C421.88 522.87 425.05 520.3 426.5 520.2 L432.6 520.2 Q433.7 520.2 433.7 521.3 L433.7 528.65 Q433.7 529.75 432.6 529.75 L426.5 529.75 C425.05 529.65 421.88 527.73 419.9 527.73 L415.9 527.73 C413.92 527.73 410.75 529.65 409.3 529.75 L403.2 529.75 Q402.1 529.75 402.1 528.65 Z" fill="url(#kk)" stroke="#101010" stroke-width="0.7" stroke-linejoin="round"/>
<g fill="#fcfcfc"><rect x="396.95" y="523.97" width="2.1" height="2.15" rx="0.85"/><rect x="401.9" y="523.97" width="2.1" height="2.15" rx="0.85"/><rect x="406.86" y="523.97" width="2.1" height="2.15" rx="0.85"/><rect x="421.72" y="523.97" width="2.1" height="2.15" rx="0.85"/><rect x="436.58" y="523.97" width="2.1" height="2.15" rx="0.85"/><rect x="441.53" y="523.97" width="2.1" height="2.15" rx="0.85"/><rect x="446.48" y="523.97" width="2.1" height="2.15" rx="0.85"/><rect x="451.44" y="523.97" width="2.1" height="2.15" rx="0.85"/><rect x="456.39" y="523.97" width="2.1" height="2.15" rx="0.85"/><rect x="461.34" y="523.97" width="2.1" height="2.15" rx="0.85"/><rect x="466.3" y="523.97" width="2.1" height="2.15" rx="0.85"/><rect x="471.25" y="523.97" width="2.1" height="2.15" rx="0.85"/></g>
<g fill="#fcfcfc" fill-opacity="0.4"><rect x="426.67" y="523.97" width="2.1" height="2.15" rx="0.85"/><rect x="431.62" y="523.97" width="2.1" height="2.15" rx="0.85"/></g>
<g fill="#0a0a0a"><rect x="411.81" y="523.97" width="2.1" height="2.15" rx="0.85"/><rect x="416.76" y="523.97" width="2.1" height="2.15" rx="0.85"/></g>
</g>
<g class="strap s12 g">
<rect x="341" y="541.8" width="3.5" height="2.2" rx="0.5" fill="#b5bbbd"/>
<rect x="344" y="538" width="7.5" height="10.2" rx="0.9" fill="#aab1b4"/>
<rect x="344" y="538" width="1.5" height="10.2" rx="0.7" fill="#8f979b"/>
<rect x="348" y="539.9" width="2.3" height="6.7" rx="0.3" fill="#fdfdfd"/>
<path d="M350 538.4 L352.5 538.4 C355 538.7 360 540.52 362.5 540.52 L480 540.52 L491.5 541.9 A1.3 1.3 0 0 1 491.5 544.5 L480 545.88 L362.5 545.88 C360 545.88 355 547.6 352.5 547.9 L350 547.9 Z" fill="url(#bg)"/>
<path d="M402.1 539.5 Q402.1 538.4 403.2 538.4 L409.3 538.4 C410.75 538.5 413.92 541.07 415.9 541.07 L419.9 541.07 C421.88 541.07 425.05 538.5 426.5 538.4 L432.6 538.4 Q433.7 538.4 433.7 539.5 L433.7 546.85 Q433.7 547.95 432.6 547.95 L426.5 547.95 C425.05 547.85 421.88 545.93 419.9 545.93 L415.9 545.93 C413.92 545.93 410.75 547.85 409.3 547.95 L403.2 547.95 Q402.1 547.95 402.1 546.85 Z" fill="url(#kg)" stroke="#4f656e" stroke-width="0.7" stroke-linejoin="round"/>
<g fill="#f7fafb"><rect x="396.95" y="542.17" width="2.1" height="2.15" rx="0.85"/><rect x="401.9" y="542.17" width="2.1" height="2.15" rx="0.85"/><rect x="406.86" y="542.17" width="2.1" height="2.15" rx="0.85"/><rect x="421.72" y="542.17" width="2.1" height="2.15" rx="0.85"/><rect x="436.58" y="542.17" width="2.1" height="2.15" rx="0.85"/><rect x="441.53" y="542.17" width="2.1" height="2.15" rx="0.85"/><rect x="446.48" y="542.17" width="2.1" height="2.15" rx="0.85"/><rect x="451.44" y="542.17" width="2.1" height="2.15" rx="0.85"/><rect x="456.39" y="542.17" width="2.1" height="2.15" rx="0.85"/><rect x="461.34" y="542.17" width="2.1" height="2.15" rx="0.85"/><rect x="466.3" y="542.17" width="2.1" height="2.15" rx="0.85"/><rect x="471.25" y="542.17" width="2.1" height="2.15" rx="0.85"/></g>
<g fill="#f7fafb" fill-opacity="0.4"><rect x="426.67" y="542.17" width="2.1" height="2.15" rx="0.85"/><rect x="431.62" y="542.17" width="2.1" height="2.15" rx="0.85"/></g>
<g fill="#1f2c33"><rect x="411.81" y="542.17" width="2.1" height="2.15" rx="0.85"/><rect x="416.76" y="542.17" width="2.1" height="2.15" rx="0.85"/></g>
</g>
<g class="strap s12 y">
<rect x="341" y="558.1" width="3.5" height="2.2" rx="0.5" fill="#6b746f"/>
<rect x="344" y="554.3" width="7.5" height="10.2" rx="0.9" fill="#57606b"/>
<rect x="344" y="554.3" width="1.5" height="10.2" rx="0.7" fill="#3f4852"/>
<rect x="348" y="556.2" width="2.3" height="6.7" rx="0.3" fill="#fdfdfd"/>
<path d="M350 554.7 L352.5 554.7 C355 555 360 556.82 362.5 556.82 L480 556.82 L491.5 558.2 A1.3 1.3 0 0 1 491.5 560.8 L480 562.18 L362.5 562.18 C360 562.18 355 563.9 352.5 564.2 L350 564.2 Z" fill="url(#by)"/>
<path d="M350 554.9 L352.5 554.9 Q354.5 555.2 356 555.9 M350 564 L352.5 564 Q354.5 563.7 356 563.1" fill="none" stroke="#5a5648" stroke-width="0.7" stroke-opacity="0.75"/>
<path d="M402.1 555.8 Q402.1 554.7 403.2 554.7 L409.3 554.7 C410.75 554.8 413.92 557.37 415.9 557.37 L419.9 557.37 C421.88 557.37 425.05 554.8 426.5 554.7 L432.6 554.7 Q433.7 554.7 433.7 555.8 L433.7 563.15 Q433.7 564.25 432.6 564.25 L426.5 564.25 C425.05 564.15 421.88 562.23 419.9 562.23 L415.9 562.23 C413.92 562.23 410.75 564.15 409.3 564.25 L403.2 564.25 Q402.1 564.25 402.1 563.15 Z" fill="url(#ky)" stroke="#ec9c0c" stroke-width="0.7" stroke-linejoin="round"/>
<g fill="#fff3cc"><rect x="396.95" y="558.47" width="2.1" height="2.15" rx="0.85"/><rect x="401.9" y="558.47" width="2.1" height="2.15" rx="0.85"/><rect x="406.86" y="558.47" width="2.1" height="2.15" rx="0.85"/><rect x="421.72" y="558.47" width="2.1" height="2.15" rx="0.85"/><rect x="436.58" y="558.47" width="2.1" height="2.15" rx="0.85"/><rect x="441.53" y="558.47" width="2.1" height="2.15" rx="0.85"/><rect x="446.48" y="558.47" width="2.1" height="2.15" rx="0.85"/><rect x="451.44" y="558.47" width="2.1" height="2.15" rx="0.85"/><rect x="456.39" y="558.47" width="2.1" height="2.15" rx="0.85"/><rect x="461.34" y="558.47" width="2.1" height="2.15" rx="0.85"/><rect x="466.3" y="558.47" width="2.1" height="2.15" rx="0.85"/><rect x="471.25" y="558.47" width="2.1" height="2.15" rx="0.85"/></g>
<g fill="#fff3cc" fill-opacity="0.4"><rect x="426.67" y="558.47" width="2.1" height="2.15" rx="0.85"/><rect x="431.62" y="558.47" width="2.1" height="2.15" rx="0.85"/></g>
<g fill="#d6741a"><rect x="411.81" y="558.47" width="2.1" height="2.15" rx="0.85"/><rect x="416.76" y="558.47" width="2.1" height="2.15" rx="0.85"/></g>
</g>
</svg>
<div class="lab" style="left:495.6px;top:6.24px"><span class="d">75</span> см</div>
<div class="lab" style="left:495.6px;top:108.04px"><span class="d">62,5</span> см</div>
<div class="lab" style="left:495.6px;top:208.44px"><span class="d">50</span> см</div>
<div class="lab" style="left:495.6px;top:310.24px"><span class="d">37,5</span> см</div>
<div class="lab" style="left:495.6px;top:409.84px"><span class="d">45</span> см</div>
<div class="lab" style="left:495.6px;top:493.04px"><span class="d">30</span> см</div>
<div class="lab w" style="left:272.2px;top:53.74px"><span class="d">20</span> мм</div>
<div class="lab w" style="left:272.2px;top:155.24px"><span class="d">20</span> мм</div>
<div class="lab w" style="left:272.2px;top:256.04px"><span class="d">20</span> мм</div>
<div class="lab w" style="left:272.2px;top:358.64px"><span class="d">20</span> мм</div>
<div class="lab w" style="left:272.2px;top:446.24px"><span class="d">12</span> мм</div>
<div class="lab w" style="left:272.2px;top:530.24px"><span class="d">12</span> мм</div>
</body>
</html>
